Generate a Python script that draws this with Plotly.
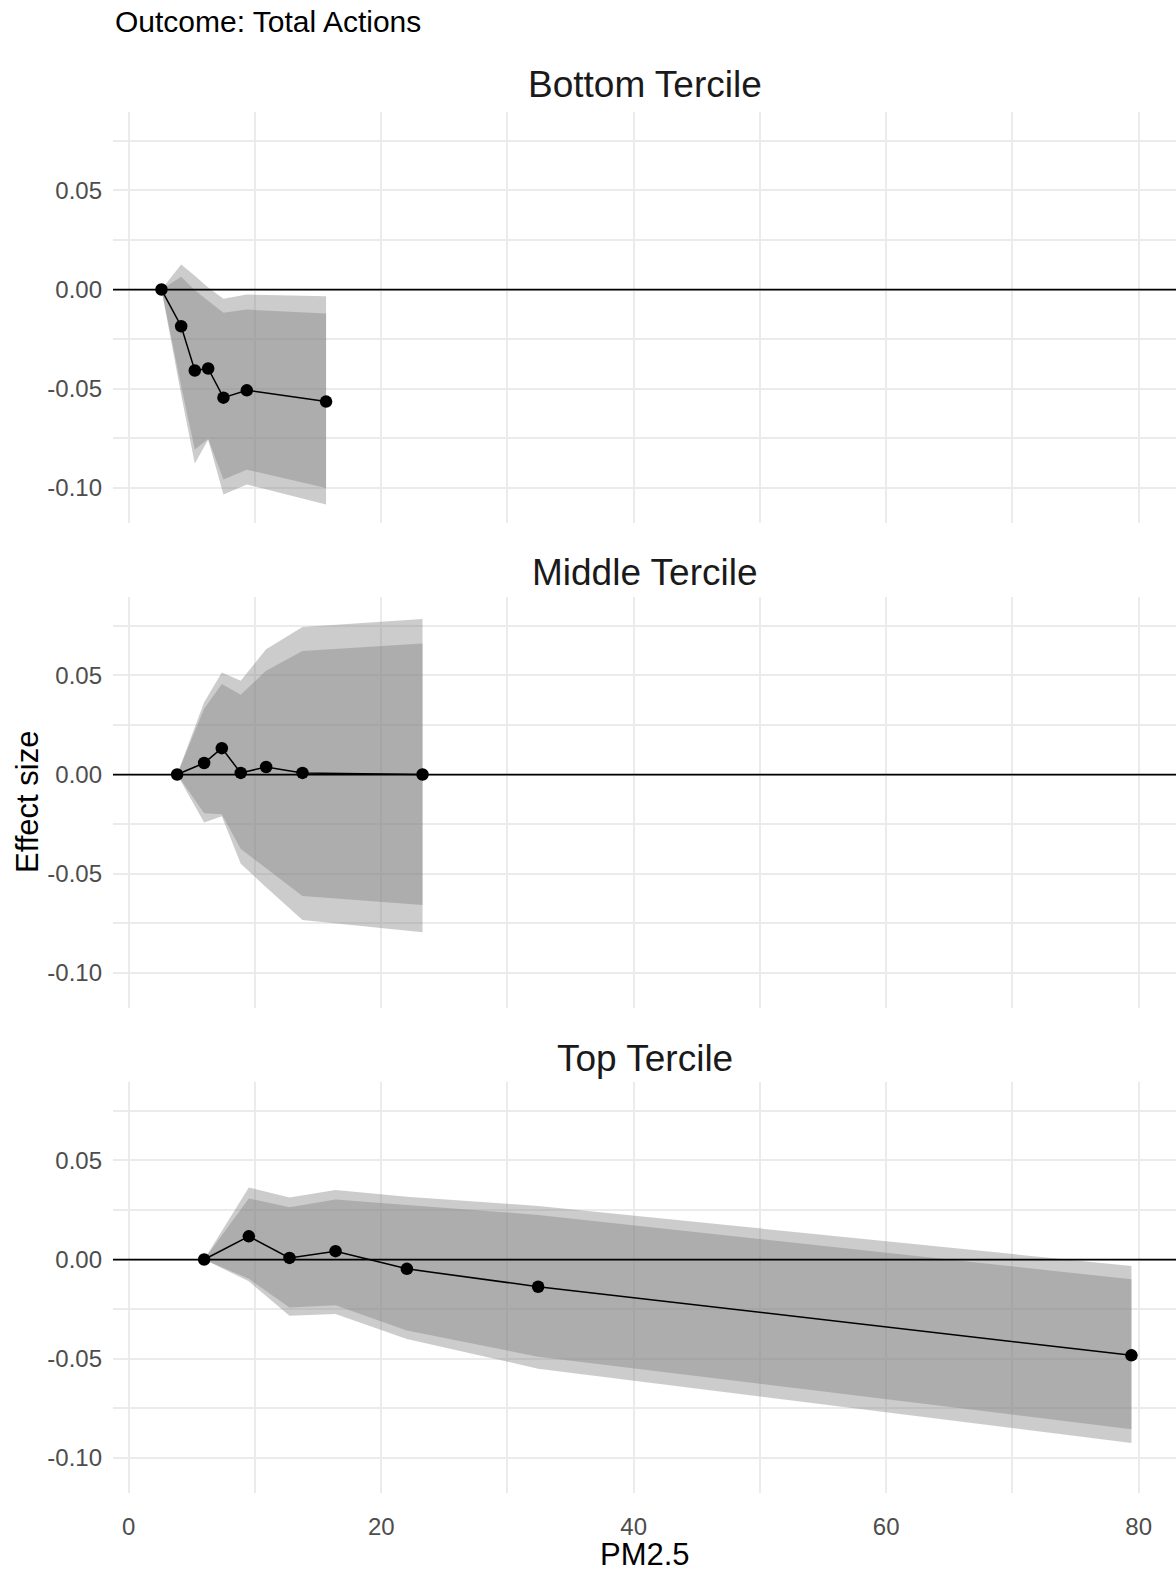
import plotly.graph_objects as go
from plotly.subplots import make_subplots

# ---------------- data ----------------
panel_titles = ["Bottom Tercile", "Middle Tercile", "Top Tercile"]

bt_x = [2.59, 4.15, 5.23, 6.29, 7.50, 9.35, 15.63]
bt_y = [0.0, -0.0185, -0.0408, -0.0398, -0.0545, -0.0508, -0.0565]
bt_outer_hi = [0.0, 0.0126, 0.0069, 0.0010, -0.0047, -0.0025, -0.0034]
bt_outer_lo = [0.0, -0.0530, -0.0877, -0.0757, -0.1033, -0.0983, -0.1084]
bt_inner_hi = [0.0, 0.0064, -0.0003, -0.0057, -0.0117, -0.0101, -0.0121]
bt_inner_lo = [0.0, -0.0486, -0.0807, -0.0753, -0.0958, -0.0908, -0.1000]

mt_x = [3.83, 5.97, 7.37, 8.87, 10.88, 13.76, 23.27]
mt_y = [0.0, 0.0058, 0.0133, 0.0008, 0.0038, 0.0008, 0.0]
mt_outer_hi = [0.0, 0.0365, 0.0515, 0.0473, 0.0631, 0.0744, 0.0784]
mt_outer_lo = [0.0, -0.0242, -0.0210, -0.0450, -0.0568, -0.0733, -0.0795]
mt_inner_hi = [0.0, 0.0332, 0.0457, 0.0402, 0.0523, 0.0623, 0.0661]
mt_inner_lo = [0.0, -0.0195, -0.0200, -0.0375, -0.0473, -0.0612, -0.0658]

tt_x = [5.97, 9.51, 12.73, 16.38, 22.03, 32.43, 79.43]
tt_y = [0.0, 0.0117, 0.0008, 0.0042, -0.0047, -0.0137, -0.0483]
tt_outer_hi = [0.0, 0.0363, 0.0313, 0.0350, 0.0317, 0.0270, -0.0033]
tt_outer_lo = [0.0, -0.0110, -0.0283, -0.0275, -0.0400, -0.0550, -0.0925]
tt_inner_hi = [0.0, 0.0308, 0.0263, 0.0303, 0.0275, 0.0225, -0.0100]
tt_inner_lo = [0.0, -0.0097, -0.0242, -0.0230, -0.0358, -0.0490, -0.0855]

x_tick_vals = [0, 20, 40, 60, 80]
x_tick_text = ["0", "20", "40", "60", "80"]
x_minor_vals = [10, 30, 50, 70]
y_tick_vals = [-0.10, -0.05, 0.0, 0.05]
y_tick_text = ["-0.10", "-0.05", "0.00", "0.05"]
y_minor_vals = [-0.075, -0.025, 0.025, 0.075]

panels = [
    (bt_x, bt_y, bt_outer_lo, bt_outer_hi, bt_inner_lo, bt_inner_hi),
    (mt_x, mt_y, mt_outer_lo, mt_outer_hi, mt_inner_lo, mt_inner_hi),
    (tt_x, tt_y, tt_outer_lo, tt_outer_hi, tt_inner_lo, tt_inner_hi),
]

# ---------------- figure ----------------
W, H = 1176, 1573
FONT = "Liberation Sans, Arial, sans-serif"
RIBBON = "rgba(127,127,127,0.4)"
GRID = "#EBEBEB"

fig = make_subplots(rows=3, cols=1, shared_xaxes=True)

for i, (x, y, olo, ohi, ilo, ihi) in enumerate(panels, start=1):
    # outer ribbon
    fig.add_trace(go.Scatter(x=list(x) + list(x)[::-1], y=list(ohi) + list(olo)[::-1],
                             fill="toself", fillcolor=RIBBON, mode="none",
                             line=dict(width=0), hoverinfo="skip", showlegend=False),
                  row=i, col=1)
    # inner ribbon
    fig.add_trace(go.Scatter(x=list(x) + list(x)[::-1], y=list(ihi) + list(ilo)[::-1],
                             fill="toself", fillcolor=RIBBON, mode="none",
                             line=dict(width=0), hoverinfo="skip", showlegend=False),
                  row=i, col=1)
    fig.add_hline(y=0, line_color="black", line_width=1.8, row=i, col=1)
    fig.add_trace(go.Scatter(x=x, y=y, mode="lines+markers",
                             line=dict(color="black", width=1.5),
                             marker=dict(color="black", size=12.5),
                             showlegend=False),
                  row=i, col=1)

# panel geometry in pixels (from top)
panel_px = [(112, 523), (597, 1008), (1082, 1493)]
x_left = 113
x_range = [-1.25, 82.96]
y_range = [-0.1177, 0.0895]

for i, (top, bot) in enumerate(panel_px, start=1):
    ysuf = "" if i == 1 else str(i)
    fig.layout["yaxis" + ysuf].update(
        domain=[(H - bot) / H, (H - top) / H],
        range=y_range, tickmode="array", tickvals=y_tick_vals, ticktext=y_tick_text,
        showgrid=True, gridcolor=GRID, gridwidth=2, zeroline=False, showline=False,
        ticks="", ticklabelstandoff=10,
        tickfont=dict(family=FONT, size=24, color="#4D4D4D"),
        minor=dict(tickvals=y_minor_vals, showgrid=True, gridcolor=GRID, gridwidth=1.5),
    )
    fig.layout["xaxis" + ysuf].update(
        domain=[x_left / W, 1.0], range=x_range,
        tickmode="array", tickvals=x_tick_vals, ticktext=x_tick_text,
        showgrid=True, gridcolor=GRID, gridwidth=2, zeroline=False, showline=False,
        ticks="", showticklabels=(i == 3), ticklabelstandoff=17,
        tickfont=dict(family=FONT, size=24, color="#4D4D4D"),
        minor=dict(tickvals=x_minor_vals, showgrid=True, gridcolor=GRID, gridwidth=1.5),
    )

annotations = []
strip_y_px = [85, 573, 1058]
for t, ypx in zip(panel_titles, strip_y_px):
    annotations.append(dict(text=t, x=(x_left + W) / 2 / W, y=(H - ypx) / H,
                            xref="paper", yref="paper", xanchor="center", yanchor="middle",
                            showarrow=False, font=dict(family=FONT, size=37, color="#1A1A1A")))
annotations.append(dict(text="Outcome: Total Actions", x=x_left / W, y=(H - 22) / H,
                        xref="paper", yref="paper", xanchor="left", yanchor="middle",
                        showarrow=False, font=dict(family=FONT, size=30, color="black")))
annotations.append(dict(text="Effect size", x=27 / W, y=(H - 802) / H, textangle=-90,
                        xref="paper", yref="paper", xanchor="center", yanchor="middle",
                        showarrow=False, font=dict(family=FONT, size=31, color="black")))
annotations.append(dict(text="PM2.5", x=(x_left + W) / 2 / W, y=(H - 1554) / H,
                        xref="paper", yref="paper", xanchor="center", yanchor="middle",
                        showarrow=False, font=dict(family=FONT, size=31, color="black")))

fig.update_layout(width=W, height=H, margin=dict(l=0, r=0, t=0, b=0),
                  paper_bgcolor="white", plot_bgcolor="white",
                  annotations=annotations, font=dict(family=FONT))

fig.write_html("out.html")
